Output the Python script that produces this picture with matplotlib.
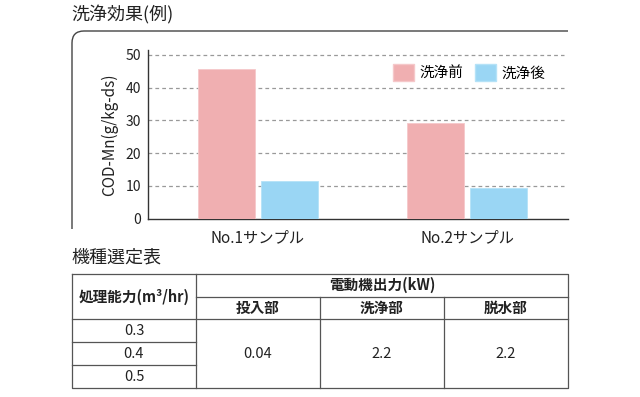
import matplotlib
matplotlib.use('Agg')
import matplotlib.pyplot as plt
import numpy as np
from matplotlib.path import Path
from matplotlib.patches import PathPatch, Patch

plt.rcParams['font.family'] = ['Noto Sans CJK JP', 'DejaVu Sans']

# ─── データ ───────────────────────────────────────────
samples = ['No.1サンプル', 'No.2サンプル']
before = [45.8, 29.3]   # 洗浄前
after = [11.4, 9.3]     # 洗浄後
series_labels = ['洗浄前', '洗浄後']
y_label = 'COD-Mn(g/kg-ds)'
y_ticks = [0, 10, 20, 30, 40, 50]

table_title = '機種選定表'
capacity_header = '処理能力(m³/hr)'
power_header = '電動機出力(kW)'
parts = ['投入部', '洗浄部', '脱水部']
capacities = ['0.3', '0.4', '0.5']
powers = ['0.04', '2.2', '2.2']

C_BEFORE = '#F0AFB1'
C_AFTER = '#9AD6F4'
LINE = '#555555'
TXT = '#222222'

W, H = 640, 397
fig = plt.figure(figsize=(W / 100, H / 100), dpi=100, facecolor='white')

# 全体用（ピクセル座標）
bg = fig.add_axes([0, 0, 1, 1])
bg.set_xlim(0, W)
bg.set_ylim(H, 0)
bg.axis('off')

bg.text(71, 15, '洗浄効果(例)', fontsize=13, va='center', ha='left', color=TXT)

# 角丸フレーム
r = 12
verts = [(72, 229), (72, 31 + r), (72, 31), (72 + r, 31), (568, 31)]
codes = [Path.MOVETO, Path.LINETO, Path.CURVE3, Path.CURVE3, Path.LINETO]
bg.add_patch(PathPatch(Path(verts, codes), fill=False, edgecolor='#444444', lw=1.0))

# ─── 棒グラフ ─────────────────────────────────────────
left, right, top, bottom = 148, 568, 50, 218.5
ax = fig.add_axes([left / W, (H - bottom) / H, (right - left) / W, (bottom - top) / H])
ax.set_facecolor('none')
x = np.arange(len(samples))
bw = 0.273
off = 0.151
ax.bar(x - off, before, bw, color=C_BEFORE, edgecolor='#F5C8CA', lw=0.6, zorder=3, label=series_labels[0])
ax.bar(x + off, after, bw, color=C_AFTER, edgecolor='#B5E2F7', lw=0.6, zorder=3, label=series_labels[1])
ax.set_xlim(-0.526, 1.483)
ax.set_ylim(0, 51.5)
ax.set_yticks(y_ticks)
ax.set_yticklabels([str(t) for t in y_ticks], fontsize=10)
ax.set_xticks(x)
ax.set_xticklabels(samples, fontsize=11)
ax.tick_params(axis='both', length=0, pad=5, colors=TXT)
ax.tick_params(axis='x', pad=8)
for t in y_ticks[1:]:
    ax.axhline(t, xmin=0, xmax=0.99, color='#999999', lw=0.9, ls=(0, (3, 2.5)), zorder=1)
for s in ['top', 'right']:
    ax.spines[s].set_visible(False)
for s in ['left', 'bottom']:
    ax.spines[s].set_color('#333333')
    ax.spines[s].set_linewidth(1.0)
ax.set_ylabel(y_label, fontsize=11, labelpad=5, color=TXT)

ax.legend(handles=[Patch(facecolor=C_BEFORE, edgecolor='#F5C8CA', label=series_labels[0]),
                   Patch(facecolor=C_AFTER, edgecolor='#B5E2F7', label=series_labels[1])],
          loc='upper right', bbox_to_anchor=(0.96, 0.95), ncol=2, frameon=False,
          fontsize=10.5, handlelength=1.4, handleheight=1.4, handletextpad=0.4,
          columnspacing=0.8, borderaxespad=0)

# ─── 機種選定表 ───────────────────────────────────────
bg.text(71, 258, table_title, fontsize=13, va='center', ha='left', color=TXT)

tl, tr = 72, 568
cx = [196, 320, 444]
ty = [273.5, 296.7, 319.3, 342.3, 365.3, 388]
lw = 0.9
# 外枠
bg.plot([tl, tr, tr, tl, tl], [ty[0], ty[0], ty[-1], ty[-1], ty[0]], color=LINE, lw=lw)
bg.plot([cx[0], cx[0]], [ty[0], ty[-1]], color=LINE, lw=lw)
bg.plot([cx[0], tr], [ty[1], ty[1]], color=LINE, lw=lw)
bg.plot([tl, tr], [ty[2], ty[2]], color=LINE, lw=lw)
for c in cx[1:]:
    bg.plot([c, c], [ty[1], ty[-1]], color=LINE, lw=lw)
for yy in ty[3:5]:
    bg.plot([tl, cx[0]], [yy, yy], color=LINE, lw=lw)

bg.text((tl + cx[0]) / 2, (ty[0] + ty[2]) / 2, capacity_header, fontsize=10.5,
        fontweight='bold', ha='center', va='center', color=TXT)
bg.text((cx[0] + tr) / 2, (ty[0] + ty[1]) / 2, power_header, fontsize=10.5,
        fontweight='bold', ha='center', va='center', color=TXT)
col_edges = cx + [tr]
for i, p in enumerate(parts):
    bg.text((col_edges[i] + col_edges[i + 1]) / 2, (ty[1] + ty[2]) / 2, p, fontsize=10.5,
            fontweight='bold', ha='center', va='center', color=TXT)
for i, c in enumerate(capacities):
    bg.text((tl + cx[0]) / 2, (ty[2 + i] + ty[3 + i]) / 2, c, fontsize=10.5,
            ha='center', va='center', color=TXT)
for i, p in enumerate(powers):
    bg.text((col_edges[i] + col_edges[i + 1]) / 2, (ty[2] + ty[-1]) / 2, p, fontsize=10.5,
            ha='center', va='center', color=TXT)

fig.savefig('out.png', dpi=100, facecolor='white')
